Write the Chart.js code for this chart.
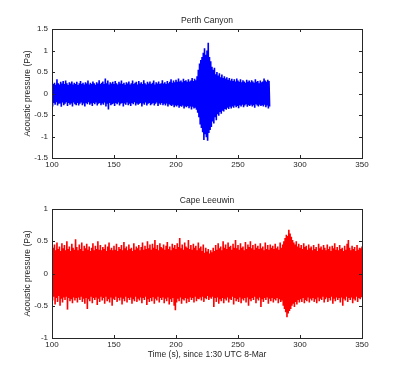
<!DOCTYPE html>
<html><head><meta charset="utf-8">
<script src="https://cdn.jsdelivr.net/npm/chart.js@4.4.1/dist/chart.umd.min.js"></script>
<style>
html,body{margin:0;padding:0;background:#fff;}
#wrap{position:relative;width:400px;height:381px;}
canvas{position:absolute;left:0;}
</style></head>
<body><div id="wrap">
<canvas id="c1" width="400" height="190" style="top:0"></canvas>
<canvas id="c2" width="400" height="191" style="top:180px"></canvas>
</div>
<script>
// ---- Data (envelope peaks, one per second) ----
const perthStart = 100;
const perthHi = [
0.30,0.22,0.25,0.20,0.33,0.24,0.21,0.27,0.23,0.29,
0.22,0.30,0.24,0.20,0.26,0.23,0.28,0.21,0.25,0.22,
0.27,0.20,0.24,0.29,0.22,0.25,0.21,0.26,0.23,0.30,
0.21,0.25,0.22,0.28,0.24,0.20,0.26,0.23,0.31,0.22,
0.25,0.28,0.22,0.35,0.24,0.30,0.21,0.26,0.23,0.27,
0.22,0.29,0.24,0.21,0.27,0.23,0.30,0.22,0.25,0.20,
0.26,0.23,0.28,0.21,0.24,0.30,0.22,0.25,0.27,0.21,
0.29,0.23,0.26,0.22,0.31,0.24,0.21,0.27,0.23,0.28,
0.22,0.25,0.30,0.21,0.26,0.23,0.28,0.22,0.24,0.31,
0.23,0.26,0.22,0.29,0.24,0.27,0.33,0.25,0.30,0.26,
0.32,0.27,0.35,0.28,0.30,0.26,0.34,0.29,0.31,0.27,
0.33,0.28,0.30,0.36,0.29,0.34,0.31,0.40,0.55,0.70,
0.78,0.85,0.95,1.05,0.90,1.00,1.18,0.85,0.75,0.62,
0.55,0.60,0.45,0.50,0.42,0.47,0.38,0.44,0.36,0.40,
0.35,0.38,0.32,0.36,0.30,0.34,0.29,0.33,0.28,0.35,
0.30,0.27,0.33,0.26,0.31,0.28,0.25,0.32,0.27,0.30,
0.26,0.31,0.28,0.25,0.33,0.27,0.29,0.24,0.30,0.26,
0.28,0.35,0.30,0.27,0.32,0.29];
const perthLo = [
-0.30,-0.22,-0.26,-0.20,-0.28,-0.24,-0.23,-0.31,-0.21,-0.27,
-0.24,-0.20,-0.29,-0.22,-0.26,-0.23,-0.30,-0.21,-0.25,-0.27,
-0.22,-0.28,-0.24,-0.21,-0.27,-0.23,-0.30,-0.22,-0.25,-0.20,
-0.26,-0.23,-0.29,-0.22,-0.25,-0.21,-0.28,-0.24,-0.22,-0.27,
-0.23,-0.26,-0.21,-0.30,-0.24,-0.37,-0.22,-0.27,-0.25,-0.23,
-0.29,-0.22,-0.25,-0.21,-0.28,-0.24,-0.22,-0.30,-0.23,-0.26,
-0.21,-0.27,-0.24,-0.29,-0.22,-0.25,-0.20,-0.28,-0.23,-0.26,
-0.24,-0.22,-0.30,-0.23,-0.26,-0.21,-0.28,-0.24,-0.22,-0.27,
-0.25,-0.22,-0.28,-0.24,-0.21,-0.29,-0.23,-0.26,-0.22,-0.27,
-0.24,-0.28,-0.23,-0.30,-0.25,-0.27,-0.29,-0.26,-0.32,-0.28,
-0.30,-0.27,-0.33,-0.29,-0.31,-0.28,-0.35,-0.30,-0.32,-0.29,
-0.34,-0.30,-0.37,-0.31,-0.35,-0.33,-0.38,-0.45,-0.55,-0.72,
-0.80,-0.90,-1.08,-0.95,-1.02,-1.10,-0.92,-0.85,-0.78,-0.65,
-0.70,-0.55,-0.62,-0.48,-0.52,-0.43,-0.47,-0.40,-0.42,-0.36,
-0.38,-0.33,-0.36,-0.31,-0.35,-0.30,-0.33,-0.28,-0.32,-0.29,
-0.34,-0.27,-0.30,-0.26,-0.32,-0.28,-0.25,-0.31,-0.27,-0.29,
-0.26,-0.30,-0.27,-0.33,-0.25,-0.28,-0.30,-0.26,-0.29,-0.27,
-0.30,-0.26,-0.32,-0.28,-0.35,-0.30];

const capeStart = 100;
const capeHi = [
0.52,0.40,0.45,0.36,0.48,0.38,0.42,0.35,0.47,0.39,
0.44,0.36,0.50,0.38,0.42,0.35,0.46,0.40,0.37,0.53,
0.41,0.36,0.45,0.38,0.48,0.35,0.43,0.39,0.46,0.37,
0.42,0.35,0.40,0.47,0.36,0.43,0.38,0.50,0.37,0.44,
0.36,0.41,0.38,0.45,0.35,0.42,0.48,0.37,0.40,0.36,
0.43,0.37,0.46,0.35,0.41,0.38,0.44,0.36,0.49,0.39,
0.42,0.36,0.45,0.38,0.40,0.35,0.47,0.37,0.42,0.39,
0.44,0.36,0.41,0.48,0.37,0.43,0.38,0.50,0.39,0.45,
0.37,0.46,0.40,0.52,0.38,0.44,0.36,0.47,0.41,0.39,
0.45,0.37,0.43,0.49,0.38,0.42,0.36,0.46,0.40,0.44,
0.38,0.47,0.41,0.55,0.39,0.45,0.37,0.48,0.42,0.40,
0.52,0.38,0.44,0.37,0.46,0.40,0.43,0.36,0.48,0.39,
0.42,0.35,0.45,0.32,0.40,0.34,0.38,0.31,0.36,0.33,
0.40,0.35,0.44,0.37,0.47,0.39,0.42,0.36,0.50,0.40,
0.45,0.38,0.48,0.41,0.43,0.37,0.46,0.40,0.52,0.39,
0.44,0.37,0.47,0.40,0.42,0.36,0.49,0.38,0.45,0.41,
0.50,0.39,0.44,0.37,0.46,0.40,0.43,0.38,0.47,0.39,
0.42,0.36,0.48,0.38,0.44,0.37,0.45,0.40,0.43,0.38,
0.46,0.39,0.42,0.37,0.48,0.40,0.45,0.50,0.55,0.60,
0.58,0.68,0.62,0.57,0.52,0.48,0.45,0.50,0.42,0.46,
0.40,0.44,0.38,0.47,0.41,0.43,0.37,0.45,0.39,0.42,
0.36,0.44,0.38,0.41,0.35,0.46,0.39,0.42,0.37,0.44,
0.40,0.36,0.45,0.38,0.42,0.35,0.43,0.39,0.47,0.37,
0.41,0.36,0.44,0.38,0.40,0.35,0.43,0.37,0.46,0.52,
0.40,0.36,0.43,0.38,0.41,0.35,0.44,0.37,0.40,0.39,
0.42];
const capeLo = [
-0.42,-0.36,-0.48,-0.38,-0.44,-0.35,-0.50,-0.39,-0.45,-0.37,
-0.41,-0.36,-0.56,-0.38,-0.43,-0.40,-0.46,-0.37,-0.42,-0.38,
-0.45,-0.37,-0.41,-0.36,-0.44,-0.39,-0.47,-0.38,-0.55,-0.40,
-0.43,-0.36,-0.46,-0.38,-0.41,-0.37,-0.49,-0.39,-0.44,-0.36,
-0.42,-0.38,-0.47,-0.36,-0.43,-0.40,-0.45,-0.37,-0.50,-0.39,
-0.41,-0.36,-0.44,-0.38,-0.42,-0.37,-0.48,-0.39,-0.43,-0.36,
-0.45,-0.38,-0.41,-0.37,-0.47,-0.40,-0.43,-0.36,-0.44,-0.39,
-0.42,-0.37,-0.46,-0.38,-0.41,-0.36,-0.49,-0.40,-0.44,-0.38,
-0.43,-0.37,-0.47,-0.39,-0.42,-0.36,-0.45,-0.38,-0.41,-0.37,
-0.46,-0.39,-0.43,-0.37,-0.48,-0.40,-0.44,-0.38,-0.50,-0.57,
-0.45,-0.39,-0.43,-0.37,-0.47,-0.40,-0.42,-0.38,-0.46,-0.39,
-0.44,-0.37,-0.41,-0.38,-0.45,-0.36,-0.43,-0.39,-0.40,-0.37,
-0.42,-0.36,-0.44,-0.38,-0.40,-0.35,-0.41,-0.37,-0.39,-0.36,
-0.52,-0.38,-0.44,-0.37,-0.47,-0.40,-0.43,-0.38,-0.46,-0.39,
-0.42,-0.37,-0.45,-0.39,-0.41,-0.36,-0.48,-0.38,-0.43,-0.40,
-0.44,-0.37,-0.46,-0.39,-0.42,-0.38,-0.45,-0.37,-0.50,-0.40,
-0.43,-0.38,-0.41,-0.36,-0.46,-0.39,-0.42,-0.37,-0.52,-0.40,
-0.44,-0.38,-0.41,-0.37,-0.47,-0.39,-0.43,-0.38,-0.45,-0.40,
-0.42,-0.38,-0.46,-0.40,-0.44,-0.42,-0.50,-0.55,-0.60,-0.68,
-0.62,-0.58,-0.55,-0.50,-0.47,-0.52,-0.44,-0.48,-0.41,-0.45,
-0.40,-0.44,-0.38,-0.46,-0.41,-0.43,-0.37,-0.45,-0.39,-0.42,
-0.38,-0.44,-0.40,-0.46,-0.37,-0.43,-0.39,-0.41,-0.36,-0.45,
-0.40,-0.37,-0.44,-0.38,-0.42,-0.36,-0.47,-0.39,-0.43,-0.37,
-0.41,-0.38,-0.45,-0.37,-0.50,-0.39,-0.42,-0.36,-0.44,-0.38,
-0.41,-0.37,-0.46,-0.39,-0.42,-0.36,-0.44,-0.38,-0.40,-0.37,
-0.40];

const xTicks = [100,150,200,250,300,350];
const perthYTicks = [-1.5,-1,-0.5,0,0.5,1,1.5];
const capeYTicks = [-1,-0.5,0,0.5,1];

// ---- build point lists: peak then trough within each second ----
function build(start, hi, lo){
  const pts = [];
  for (let i = 0; i < hi.length; i++){
    pts.push({x: start + i, y: hi[i]});
    pts.push({x: start + i + 0.5, y: lo[i]});
  }
  return pts;
}

const FONT = {family: '"Liberation Sans", Arial, sans-serif', size: 8};
const TXT = '#262626';

const framePlugin = {
  id: 'frame',
  afterDraw(chart, args, opts){
    const ctx = chart.ctx, a = chart.chartArea;
    const xs = chart.scales.x, ys = chart.scales.y;
    ctx.save();
    ctx.strokeStyle = '#262626';
    ctx.lineWidth = 1;
    ctx.strokeRect(Math.round(a.left)+0.5, Math.round(a.top)+0.5, Math.round(a.right-a.left), Math.round(a.bottom-a.top));
    const L = 3;
    ctx.beginPath();
    xTicks.forEach(v => {
      const px = Math.round(xs.getPixelForValue(v)) + 0.5;
      ctx.moveTo(px, a.bottom); ctx.lineTo(px, a.bottom - L);
      ctx.moveTo(px, a.top); ctx.lineTo(px, a.top + L);
    });
    opts.yTicks.forEach(v => {
      const py = Math.round(ys.getPixelForValue(v)) + 0.5;
      ctx.moveTo(a.left, py); ctx.lineTo(a.left + L, py);
      ctx.moveTo(a.right, py); ctx.lineTo(a.right - L, py);
    });
    ctx.stroke();
    // titles
    ctx.fillStyle = TXT;
    ctx.font = '8.5px "Liberation Sans", Arial, sans-serif';
    ctx.textAlign = 'center';
    ctx.textBaseline = 'alphabetic';
    ctx.fillText(opts.title, (a.left + a.right) / 2, a.top - 6);
    if (opts.xTitle){
      ctx.fillText(opts.xTitle, (a.left + a.right) / 2, a.bottom + 19);
    }
    ctx.save();
    ctx.translate(a.left - 24, (a.top + a.bottom) / 2);
    ctx.rotate(-Math.PI / 2);
    ctx.textBaseline = 'middle';
    ctx.fillText('Acoustic pressure (Pa)', 0, 0);
    ctx.restore();
    ctx.restore();
  }
};

function makeChart(id, pts, color, yMin, yMax, yTicks, title, xTitle, topPad, canvasH){
  return new Chart(document.getElementById(id), {
    type: 'line',
    data: {datasets: [{data: pts, borderColor: color, borderWidth: 1.6, pointRadius: 0, tension: 0.0001, fill: false}]},
    options: {
      responsive: false, animation: false, events: [],
      layout: {padding: {top: topPad, right: 38, left: 0, bottom: 0}},
      plugins: {legend: {display: false}, tooltip: {enabled: false},
                frame: {yTicks: yTicks, title: title, xTitle: xTitle}},
      scales: {
        x: {type: 'linear', min: 100, max: 350,
            afterBuildTicks(s){ s.ticks = xTicks.map(v => ({value: v})); },
            ticks: {font: FONT, color: TXT, padding: 2, maxRotation: 0, callback: v => String(v)},
            grid: {display: false, drawTicks: false}, border: {display: false},
            afterFit(s){ s.height = canvasH - topPad - 129; }},
        y: {type: 'linear', min: yMin, max: yMax,
            afterBuildTicks(s){ s.ticks = yTicks.map(v => ({value: v})); },
            ticks: {font: FONT, color: TXT, padding: 4, callback: v => String(v)},
            grid: {display: false, drawTicks: false}, border: {display: false},
            afterFit(s){ s.width = 52; }}
      }
    },
    plugins: [framePlugin]
  });
}

makeChart('c1', build(perthStart, perthHi, perthLo), '#0000ff', -1.5, 1.5, perthYTicks, 'Perth Canyon', null, 29, 190);
makeChart('c2', build(capeStart, capeHi, capeLo), '#ff0000', -1, 1, capeYTicks, 'Cape Leeuwin', 'Time (s), since 1:30 UTC 8-Mar', 29, 191);
</script>
</body></html>
